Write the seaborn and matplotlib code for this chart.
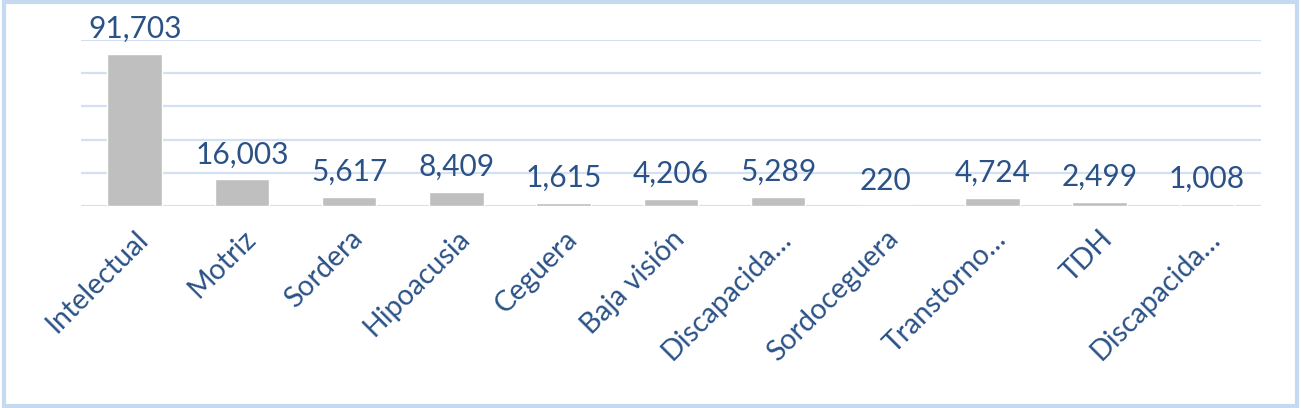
import matplotlib
matplotlib.use("Agg")
import matplotlib.pyplot as plt
import seaborn as sns
import pandas as pd
from matplotlib.patches import FancyBboxPatch

categories = ["Intelectual", "Motriz", "Sordera", "Hipoacusia", "Ceguera", "Baja visión",
              "Discapacida…", "Sordoceguera", "Transtorno…", "TDH", "Discapacida…"]
values = [91703, 16003, 5617, 8409, 1615, 4206, 5289, 220, 4724, 2499, 1008]
yticks = [0, 20000, 40000, 60000, 80000, 100000]

sns.set_theme(style="white")
plt.rcParams['font.family'] = ['Lato', 'DejaVu Sans']

text_color = "#2B5287"
grid_color = "#D3E0F3"

df = pd.DataFrame({"pos": [str(i) for i in range(len(values))], "value": values})

fig = plt.figure(figsize=(13.01, 4.08), dpi=100)
ax = fig.add_axes([0.0623, 0.495, 0.969 - 0.0623, 0.902 - 0.495])

sns.barplot(data=df, x="pos", y="value", color="#BFBFBF", saturation=1, width=0.51, ax=ax, zorder=3)

ax.set_ylim(0, 100000)
ax.set_yticks(yticks)
ax.yaxis.grid(True, color=grid_color, linewidth=1.6, zorder=0)
ax.tick_params(axis="y", left=False, labelleft=False)
ax.tick_params(axis="x", bottom=False, pad=8)
for s in ax.spines.values():
    s.set_visible(False)
ax.set_xlabel("")
ax.set_ylabel("")
ax.set_xticks(range(len(categories)))
ax.set_xticklabels(categories, rotation=45, ha="right", rotation_mode="anchor",
                   fontsize=20.5, color=text_color)

for i, v in enumerate(values):
    ax.annotate(f"{v:,}", xy=(i, v), xytext=(0, 8), textcoords="offset points",
                ha="center", va="bottom", fontsize=21.5, color=text_color, zorder=4)

border = FancyBboxPatch((0.003, 0.005), 0.994, 0.99, boxstyle="square,pad=0",
                        transform=fig.transFigure, fill=False, edgecolor="#C5D9F1",
                        linewidth=3, zorder=10)
fig.patches.append(border)

fig.savefig("out.png", dpi=100)
